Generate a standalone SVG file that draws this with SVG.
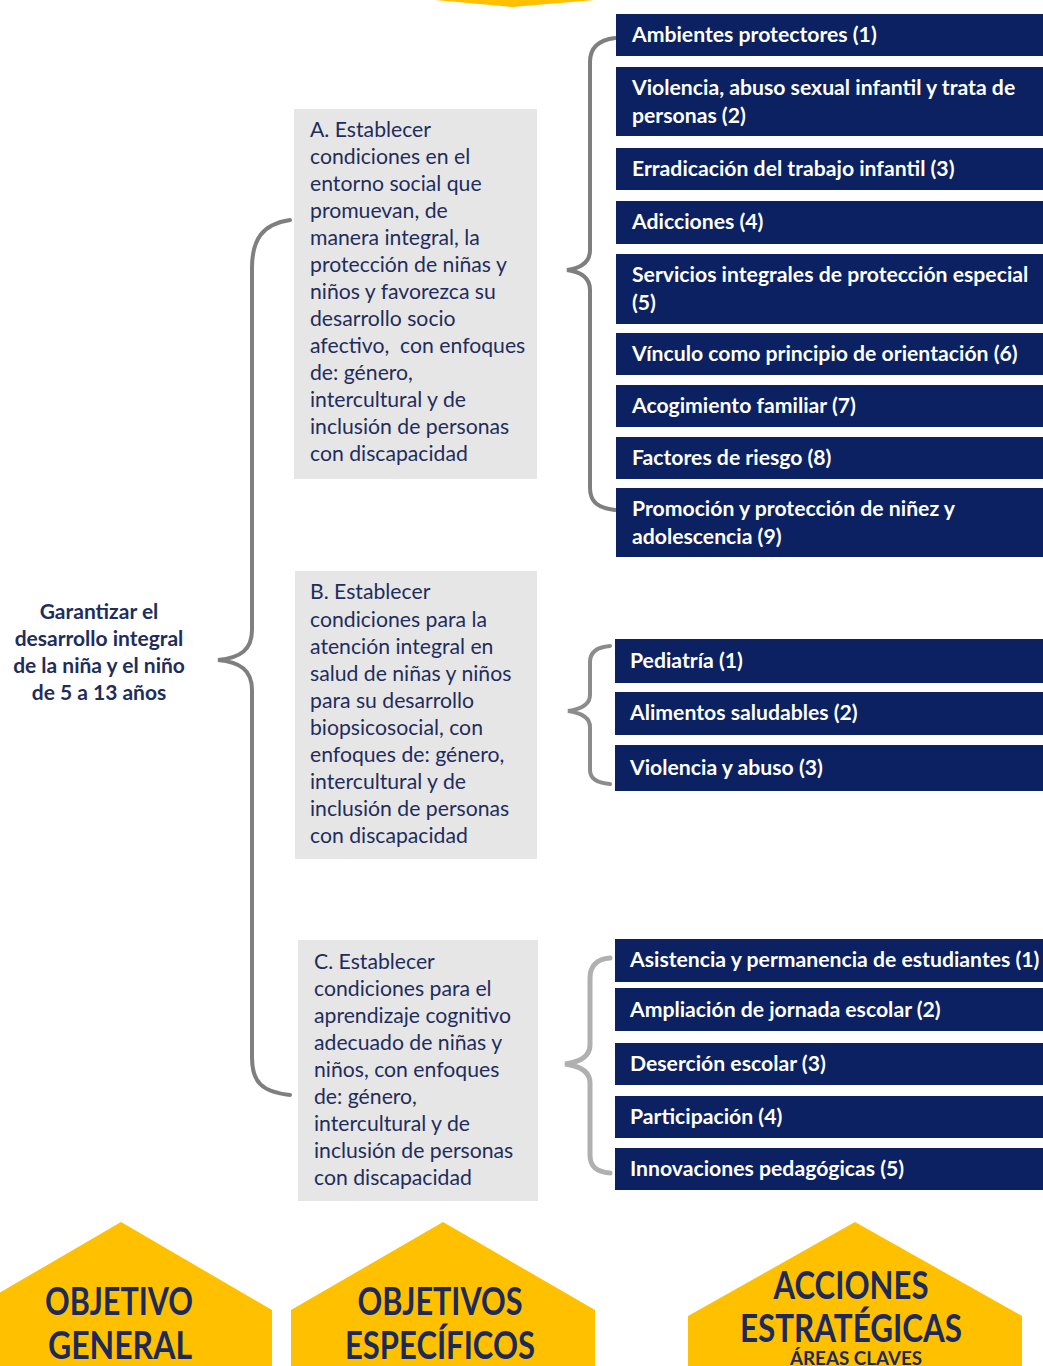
<svg xmlns="http://www.w3.org/2000/svg" width="1043" height="1366" viewBox="0 0 1043 1366">
<style>
.ob{fill:#0b2161}
.bt{font-family:Lato,"Liberation Sans",sans-serif;font-weight:700;font-size:21.2px;fill:#ffffff}
.gb{fill:#e7e6e6}
.gt{font-family:Lato,"Liberation Sans",sans-serif;font-size:21.2px;fill:#1f2d5c}
.go{font-family:Lato,"Liberation Sans",sans-serif;font-weight:700;font-size:21px;fill:#1f2d5c;text-anchor:middle}
.br{fill:none;stroke:#7f7f7f;stroke-width:4;stroke-linecap:round}
.py{fill:#ffc000}
.pt{font-family:Lato,"Liberation Sans",sans-serif;font-weight:700;font-size:39px;fill:#1b2a5b;text-anchor:middle}
</style>
<rect width="1043" height="1366" fill="#ffffff"/>
<polygon class="py" points="435,0 512,7 595,0"/>

<g id="connectors">
<path class="br" d="M290 220 C262 224 252 240 252 268 L252 630 C252 650 240 658 218 660 C240 662 252 670 252 690 L252 1058 C252 1082 262 1092 290 1095"/>
<path class="br" d="M615 38 C598 40 590 48 590 62 L590 250 C590 262 582 268 567 270 C582 272 590 278 590 290 L590 488 C590 502 598 508 615 510"/>
<path class="br" style="stroke:#8c8c8c" d="M610 646 C597 647 590 652 590 662 L590 695 C590 704 582 709 568 711 C582 713 590 718 590 727 L590 770 C590 778 597 783 610 784"/>
<path class="br" style="stroke:#b0b0b0;stroke-width:5" d="M610 958 C597 959 590 966 590 978 L590 1045 C590 1056 580 1062 565 1064 C580 1066 590 1072 590 1083 L590 1155 C590 1167 597 1172 610 1173"/>
</g>

<g id="general">
<text class="go"><tspan x="99" y="619">Garantizar el</tspan><tspan x="99" y="646">desarrollo integral</tspan><tspan x="99" y="673">de la niña y el niño</tspan><tspan x="99" y="700">de 5 a 13 años</tspan></text>
</g>

<g id="objA">
<rect class="gb" x="294" y="109" width="243" height="370"/>
<text class="gt"><tspan x="310" y="137">A. Establecer</tspan><tspan x="310" y="164">condiciones en el</tspan><tspan x="310" y="191">entorno social que</tspan><tspan x="310" y="218">promuevan, de</tspan><tspan x="310" y="245">manera integral, la</tspan><tspan x="310" y="272">protección de niñas y</tspan><tspan x="310" y="299">niños y favorezca su</tspan><tspan x="310" y="326">desarrollo socio</tspan><tspan x="310" y="353">afectivo,&#160; con enfoques</tspan><tspan x="310" y="380">de: género,</tspan><tspan x="310" y="407">intercultural y de</tspan><tspan x="310" y="434">inclusión de personas</tspan><tspan x="310" y="461">con discapacidad</tspan></text>
</g>

<g id="objB">
<rect class="gb" x="295" y="571" width="242" height="288"/>
<text class="gt"><tspan x="310" y="599">B. Establecer</tspan><tspan x="310" y="627">condiciones para la</tspan><tspan x="310" y="654">atención integral en</tspan><tspan x="310" y="681">salud de niñas y niños</tspan><tspan x="310" y="708">para su desarrollo</tspan><tspan x="310" y="735">biopsicosocial, con</tspan><tspan x="310" y="762">enfoques de: género,</tspan><tspan x="310" y="789">intercultural y de</tspan><tspan x="310" y="816">inclusión de personas</tspan><tspan x="310" y="843">con discapacidad</tspan></text>
</g>

<g id="objC">
<rect class="gb" x="298" y="940" width="240" height="261"/>
<text class="gt"><tspan x="314" y="969">C. Establecer</tspan><tspan x="314" y="996">condiciones para el</tspan><tspan x="314" y="1023">aprendizaje cognitivo</tspan><tspan x="314" y="1050">adecuado de niñas y</tspan><tspan x="314" y="1077">niños, con enfoques</tspan><tspan x="314" y="1104">de: género,</tspan><tspan x="314" y="1131">intercultural y de</tspan><tspan x="314" y="1158">inclusión de personas</tspan><tspan x="314" y="1185">con discapacidad</tspan></text>
</g>

<g id="a1"><rect class="ob" x="616" y="14" width="427" height="42"/><text class="bt" x="632" y="42">Ambientes protectores (1)</text></g>
<g id="a2"><rect class="ob" x="616" y="67" width="427" height="69"/><text class="bt"><tspan x="632" y="95">Violencia, abuso sexual infantil y trata de</tspan><tspan x="632" y="123">personas (2)</tspan></text></g>
<g id="a3"><rect class="ob" x="616" y="148" width="427" height="42"/><text class="bt" x="632" y="176">Erradicación del trabajo infantil (3)</text></g>
<g id="a4"><rect class="ob" x="616" y="201" width="427" height="43"/><text class="bt" x="632" y="229">Adicciones (4)</text></g>
<g id="a5"><rect class="ob" x="616" y="254" width="427" height="70"/><text class="bt"><tspan x="632" y="282">Servicios integrales de protección especial</tspan><tspan x="632" y="310">(5)</tspan></text></g>
<g id="a6"><rect class="ob" x="616" y="333" width="427" height="42"/><text class="bt" x="632" y="361">Vínculo como principio de orientación (6)</text></g>
<g id="a7"><rect class="ob" x="616" y="385" width="427" height="42"/><text class="bt" x="632" y="413">Acogimiento familiar (7)</text></g>
<g id="a8"><rect class="ob" x="616" y="437" width="427" height="42"/><text class="bt" x="632" y="465">Factores de riesgo (8)</text></g>
<g id="a9"><rect class="ob" x="616" y="488" width="427" height="69"/><text class="bt"><tspan x="632" y="516">Promoción y protección de niñez y</tspan><tspan x="632" y="544">adolescencia (9)</tspan></text></g>

<g id="b1"><rect class="ob" x="615" y="639" width="428" height="44"/><text class="bt" x="630" y="668">Pediatría (1)</text></g>
<g id="b2"><rect class="ob" x="615" y="692" width="428" height="43"/><text class="bt" x="630" y="720">Alimentos saludables (2)</text></g>
<g id="b3"><rect class="ob" x="615" y="745" width="428" height="46"/><text class="bt" x="630" y="775">Violencia y abuso (3)</text></g>

<g id="c1"><rect class="ob" x="615" y="939" width="428" height="43"/><text class="bt" x="630" y="967">Asistencia y permanencia de estudiantes (1)</text></g>
<g id="c2"><rect class="ob" x="615" y="988" width="428" height="43"/><text class="bt" x="630" y="1017">Ampliación de jornada escolar (2)</text></g>
<g id="c3"><rect class="ob" x="615" y="1043" width="428" height="42"/><text class="bt" x="630" y="1071">Deserción escolar (3)</text></g>
<g id="c4"><rect class="ob" x="615" y="1096" width="428" height="42"/><text class="bt" x="630" y="1124">Participación (4)</text></g>
<g id="c5"><rect class="ob" x="615" y="1148" width="428" height="42"/><text class="bt" x="630" y="1176">Innovaciones pedagógicas (5)</text></g>

<g id="label1"><polygon class="py" points="-30,1310 121,1222 272,1310 272,1366 -30,1366"/><text class="pt"><tspan x="119" y="1315" textLength="148" lengthAdjust="spacingAndGlyphs">OBJETIVO</tspan><tspan x="120" y="1359" textLength="144" lengthAdjust="spacingAndGlyphs">GENERAL</tspan></text></g>
<g id="label2"><polygon class="py" points="291,1310 443,1222 595,1310 595,1366 291,1366"/><text class="pt"><tspan x="440" y="1315" textLength="165" lengthAdjust="spacingAndGlyphs">OBJETIVOS</tspan><tspan x="440" y="1359" textLength="190" lengthAdjust="spacingAndGlyphs">ESPECÍFICOS</tspan></text></g>
<g id="label3"><polygon class="py" points="688,1316 855,1222 1022,1316 1022,1366 688,1366"/><text class="pt"><tspan x="851" y="1299" textLength="155" lengthAdjust="spacingAndGlyphs">ACCIONES</tspan><tspan x="851" y="1342" textLength="222" lengthAdjust="spacingAndGlyphs">ESTRATÉGICAS</tspan><tspan x="856" y="1365" style="font-size:19px" textLength="132" lengthAdjust="spacingAndGlyphs">ÁREAS CLAVES</tspan></text></g>
</svg>
